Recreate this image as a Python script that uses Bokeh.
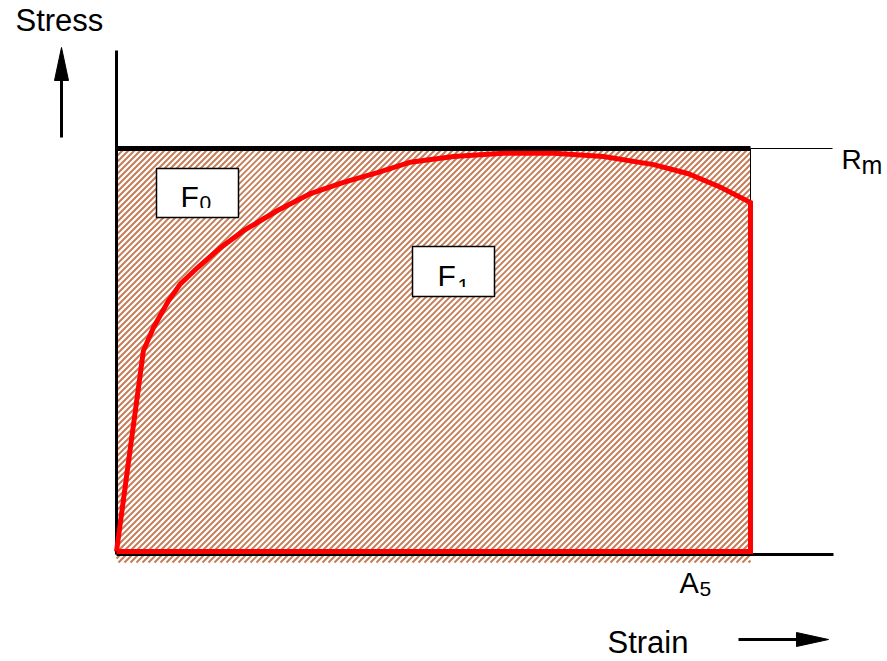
from bokeh.plotting import figure
from bokeh.models import Range1d
from bokeh.core.properties import value
from bokeh.embed import file_html
from bokeh.resources import INLINE

# ---- data (strain in %, stress in MPa; schematic values) ----
strain = [0, 1.06, 1.46, 2.05, 2.52, 3.19, 4.10, 5.01, 6.35, 7.65, 8.95,
          10.29, 11.59, 13.29, 15.26, 17.23, 19.20, 21.18, 22.52, 23.82, 25.0]
stress = [0, 249, 278, 311, 332, 352, 377, 398, 423, 444, 458,
          470, 483, 490, 494, 494, 490, 480, 469, 452, 433]
A5 = 25.0      # elongation at fracture
Rm = 500.0     # tensile strength
axis_labels = ["Stress", "Strain"]
area_labels = [("F", "0"), ("F", "1")]

# ---- layout (page pixels) ----
W, H = 887, 661
OFF = 0
X0, X1, Y0, Y1 = 116, 750, 551, 148
SHIFT = 0.36   # baseline calibration of the text glyph (fraction of font size)


def X(px):
    return (px - X0) / (X1 - X0) * A5


def Y(py):
    return (Y0 - py) / (Y0 - Y1) * Rm


p = figure(width=W, height=H, output_backend="svg", toolbar_location=None,
           x_range=Range1d(X(OFF), X(OFF + W)), y_range=Range1d(Y(OFF + H), Y(OFF)),
           x_axis_location=None, y_axis_location=None, min_border=0,
           background_fill_color="white", border_fill_color="white")
p.outline_line_color = None
p.xgrid.visible = False
p.ygrid.visible = False

FONT = value("Liberation Sans")


def txt(xpx, base, s, size):
    p.text(x=[X(xpx)], y=[Y(base - SHIFT * size)], text=[s], text_font=FONT,
           text_font_size=f"{size}px", text_baseline="alphabetic", text_align="left",
           text_color="black")


# hatched area: 45-degree lines, 6 px apart horizontally
HL, HR, HT, HB = 116, 750, 148, 562
x0s, y0s, x1s, y1s = [], [], [], []
c = HL + HT + 2
while c < HR + HB:
    xa = max(HL, c - HB)
    xb = min(HR, c - HT)
    if xb > xa:
        x0s.append(X(xa)); y0s.append(Y(c - xa))
        x1s.append(X(xb)); y1s.append(Y(c - xb))
    c += 6
p.segment(x0=x0s, y0=y0s, x1=x1s, y1=y1s, line_color="#bf6e42", line_width=1.9,
          line_alpha=0.9)

# thin right border
p.line([A5, A5], [0, Rm], line_color="black", line_width=1)
# stress axis line
p.line([0, 0], [Y(554), Y(50)], line_color="black", line_width=3)
# Rm line
p.line([0, A5], [Rm, Rm], line_color="black", line_width=5)
p.line([A5, X(832)], [Rm, Rm], line_color="black", line_width=1)
# strain axis line
p.line([0, X(833)], [Y(554), Y(554)], line_color="black", line_width=3)

# stress-strain curve (closed)
p.line(strain + [A5, 0], stress + [0, 0], line_color="red", line_width=5,
       line_join="miter")

# area label boxes
boxes = [(156, 168, 238, 217), (412, 246, 494, 296)]
Fpos = [(180, 207), (437, 286)]
subpos = [(199, 210.5), (457, 293.3)]
for (l, t, r, b), (fx, fy), (sx, sy), (main, sub) in zip(boxes, Fpos, subpos, area_labels):
    p.quad(left=X(l), right=X(r), top=Y(t), bottom=Y(b), fill_color="white",
           line_color=None)
    txt(fx, fy, main, 30)
    txt(sx, sy, sub, 21)
    # clipped subscript (as in the original)
    p.quad(left=X(l + 1), right=X(r - 1), top=Y(fy + 0.5), bottom=Y(b - 1),
           fill_color="white", line_color=None)
    p.quad(left=X(l), right=X(r), top=Y(t), bottom=Y(b), fill_color=None,
           line_color="black", line_width=1.5)

# Rm label
txt(841, 169, "R", 28)
txt(861, 173, "m", 25)
# A5 label
txt(679, 593, "A", 29)
txt(699, 596, "5", 21)

# axis titles
txt(15, 31, axis_labels[0], 31)
txt(607, 653, axis_labels[1], 31)

# arrows
p.line([X(61), X(61)], [Y(137), Y(75)], line_color="black", line_width=3)
p.patch([X(61), X(54), X(68)], [Y(47), Y(80), Y(80)], fill_color="black", line_color="black")
p.line([X(738), X(800)], [Y(639), Y(639)], line_color="black", line_width=3)
p.patch([X(828), X(796), X(796)], [Y(639), Y(632), Y(646)], fill_color="black", line_color="black")

open("out.html", "w").write(file_html(p, INLINE))
